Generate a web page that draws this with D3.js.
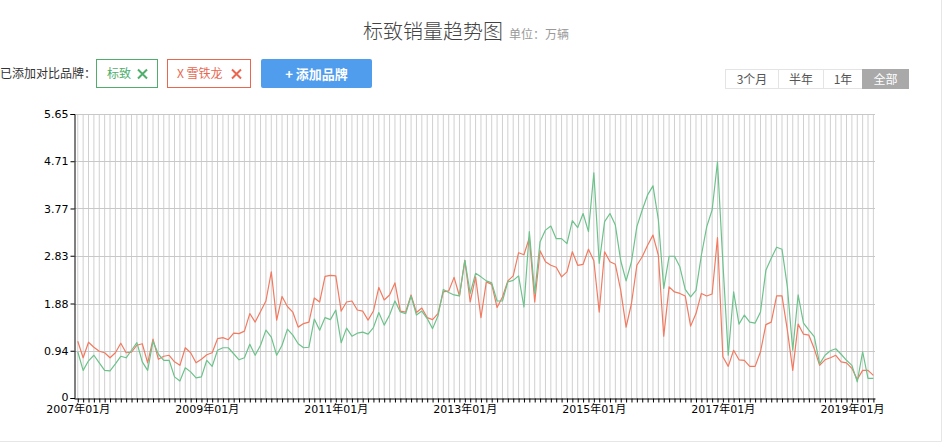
<!DOCTYPE html>
<html>
<head>
<meta charset="utf-8">
<script src="https://cdn.jsdelivr.net/npm/d3@7/dist/d3.min.js"></script>
<style>
  html, body { margin: 0; padding: 0; background: #fff; }
  svg { display: block; }
</style>
</head>
<body>
<svg id="chart" width="946" height="447"></svg>
<script>
// ---------------- DATA ----------------
const startYear = 2007;
const monthCount = 149; // 2007-01 .. 2019-05
const seriesNames = ["标致", "雪铁龙"];
const yTicks = [0, 0.94, 1.88, 2.83, 3.77, 4.71, 5.65];
const xTickLabels = ["2007年01月", "2009年01月", "2011年01月", "2013年01月", "2015年01月", "2017年01月", "2019年01月"];
const rangeButtons = ["3个月", "半年", "1年", "全部"];

// 标致 (green)
const peugeot = [
  0.92, 0.55, 0.74, 0.85, 0.70, 0.55, 0.54, 0.68, 0.83, 0.80, 0.95, 1.10,
  0.72, 0.55, 1.13, 0.87, 0.75, 0.75, 0.42, 0.34, 0.60, 0.52, 0.40, 0.42,
  0.75, 0.63, 0.95, 1.00, 1.00, 0.88, 0.76, 0.80, 1.07, 0.85, 1.05, 1.35,
  1.21, 0.85, 1.05, 1.37, 1.25, 1.08, 1.00, 1.01, 1.57, 1.35, 1.60, 1.56,
  1.75, 1.10, 1.39, 1.23, 1.29, 1.31, 1.27, 1.40, 1.70, 1.45, 1.65, 1.93,
  1.71, 1.68, 2.03, 1.65, 1.73, 1.58, 1.38, 1.63, 2.16, 2.10, 2.05, 2.03,
  2.74, 2.08, 2.48, 2.41, 2.33, 2.29, 1.93, 1.93, 2.31, 2.34, 2.43, 1.81,
  3.31, 2.08, 3.11, 3.34, 3.42, 3.17, 3.17, 3.07, 3.53, 3.39, 3.67, 3.31,
  4.48, 2.68, 3.51, 3.67, 3.44, 2.73, 2.33, 2.71, 3.41, 3.74, 4.04, 4.22,
  3.55, 2.18, 2.82, 2.82, 2.61, 2.16, 2.01, 2.14, 2.84, 3.41, 3.74, 4.70,
  2.70, 0.85, 2.11, 1.47, 1.65, 1.51, 1.49, 1.71, 2.54, 2.78, 3.00, 2.96,
  2.21, 0.95, 2.05, 1.49, 1.35, 1.22, 0.68, 0.85, 0.94, 0.98, 0.87, 0.75,
  0.65, 0.32, 0.92, 0.39, 0.39
];

// 雪铁龙 (red)
const citroen = [
  1.13, 0.80, 1.11, 1.01, 0.93, 0.90, 0.80, 0.90, 1.09, 0.90, 0.91, 1.05,
  1.08, 0.70, 1.17, 0.77, 0.83, 0.85, 0.72, 0.65, 1.00, 0.90, 0.70, 0.77,
  0.86, 0.90, 1.18, 1.20, 1.16, 1.29, 1.28, 1.33, 1.68, 1.51, 1.72, 1.93,
  2.51, 1.55, 2.02, 1.82, 1.71, 1.41, 1.48, 1.51, 1.99, 1.91, 2.42, 2.44,
  2.43, 1.73, 1.91, 1.93, 1.75, 1.73, 1.55, 1.73, 2.20, 1.95, 2.05, 2.29,
  1.73, 1.71, 2.05, 1.70, 1.79, 1.60, 1.56, 1.68, 2.11, 2.13, 2.40, 2.03,
  2.74, 1.91, 2.41, 1.60, 2.31, 2.26, 1.80, 2.01, 2.33, 2.43, 2.89, 2.85,
  3.19, 1.91, 2.93, 2.71, 2.64, 2.60, 2.41, 2.51, 2.91, 2.64, 2.66, 2.96,
  2.73, 1.71, 2.91, 2.71, 2.66, 2.14, 1.41, 1.88, 2.64, 2.81, 3.04, 3.24,
  2.84, 1.23, 2.21, 2.11, 2.08, 2.03, 1.43, 1.68, 2.08, 2.03, 2.07, 3.19,
  0.82, 0.63, 0.95, 0.76, 0.75, 0.63, 0.63, 0.92, 1.46, 1.51, 2.03, 2.03,
  1.35, 0.55, 1.47, 1.27, 1.25, 0.98, 0.65, 0.76, 0.80, 0.85, 0.72, 0.70,
  0.59, 0.37, 0.55, 0.55, 0.45
];

// month categories
const months = d3.range(monthCount).map(i => {
  const yr = startYear + Math.floor(i / 12);
  const m = (i % 12) + 1;
  return `${yr}年${String(m).padStart(2, "0")}月`;
});

// ---------------- STYLE ----------------
const GREEN = "#6dc28c";
const RED = "#f27a60";
const GREEN_TXT = "#4fae6c";
const RED_TXT = "#e9664f";
const cjk = "'Noto Sans CJK SC', 'Noto Sans', sans-serif";
const axisFont = "'DejaVu Sans', 'Noto Sans CJK SC', sans-serif";

const svg = d3.select("#chart");

// container border
svg.append("line").attr("x1", 941.5).attr("x2", 941.5).attr("y1", 0).attr("y2", 441.5)
  .attr("stroke", "#e6e6e6");
svg.append("line").attr("x1", 0).attr("x2", 941.5).attr("y1", 441.5).attr("y2", 441.5)
  .attr("stroke", "#e6e6e6");

// title
const title = svg.append("text").attr("x", 363).attr("y", 39)
  .attr("font-family", cjk).attr("font-size", 20).attr("font-weight", 300).attr("fill", "#444");
title.append("tspan").text("标致销量趋势图");
title.append("tspan").attr("dx", 6).attr("font-size", 12).attr("font-weight", 400).attr("fill", "#999").text("单位：万辆");

// legend / controls
svg.append("text").attr("x", 0).attr("y", 78).attr("font-family", cjk).attr("font-size", 12)
  .attr("fill", "#333").text("已添加对比品牌：");

function crossIcon(g, cx, cy, color) {
  const s = 4.5;
  g.append("path").attr("d", `M${cx - s},${cy - s}L${cx + s},${cy + s}M${cx + s},${cy - s}L${cx - s},${cy + s}`)
    .attr("stroke", color).attr("stroke-width", 2).attr("fill", "none");
}
// 标致 box
const b1 = svg.append("g");
b1.append("rect").attr("x", 96.5).attr("y", 59.5).attr("width", 61).attr("height", 28)
  .attr("fill", "#fff").attr("stroke", GREEN_TXT);
b1.append("text").attr("x", 107).attr("y", 78).attr("font-family", cjk).attr("font-size", 12)
  .attr("fill", GREEN_TXT).text(seriesNames[0]);
crossIcon(b1, 142.5, 74, GREEN_TXT);
// 雪铁龙 box
const b2 = svg.append("g");
b2.append("rect").attr("x", 167.5).attr("y", 59.5).attr("width", 83).attr("height", 28)
  .attr("fill", "#fff").attr("stroke", RED_TXT);
b2.append("text").attr("x", 177).attr("y", 78).attr("font-family", cjk).attr("font-size", 12)
  .attr("fill", RED_TXT).text("X " + seriesNames[1]);
crossIcon(b2, 236.5, 74, RED_TXT);
// add button
const b3 = svg.append("g");
b3.append("rect").attr("x", 261).attr("y", 59).attr("width", 111).attr("height", 29)
  .attr("rx", 2).attr("fill", "#519ded");
b3.append("text").attr("x", 316.5).attr("y", 79).attr("text-anchor", "middle")
  .attr("font-family", cjk).attr("font-size", 13).attr("font-weight", "bold")
  .attr("fill", "#fff").text("+ 添加品牌");

// range buttons
const btnX = [725, 778, 823, 862, 908];
rangeButtons.forEach((t, i) => {
  const active = i === rangeButtons.length - 1;
  svg.append("rect").attr("x", btnX[i] + 0.5).attr("y", 69.5)
    .attr("width", btnX[i + 1] - btnX[i]).attr("height", 19)
    .attr("fill", active ? "#a9a9a9" : "#fff").attr("stroke", active ? "#a9a9a9" : "#e4e4e4");
  svg.append("text").attr("x", (btnX[i] + btnX[i + 1]) / 2 + 0.5).attr("y", 83.5)
    .attr("text-anchor", "middle").attr("font-family", cjk).attr("font-size", 12)
    .attr("fill", active ? "#fff" : "#555").text(t);
});

// ---------------- CHART ----------------
const plotLeft = 74, plotRight = 875, plotTop = 114, plotBottom = 398;
const x = d3.scaleLinear().domain([-0.7, monthCount - 0.7]).range([plotLeft, plotRight]);
const y = d3.scaleLinear().domain([0, yTicks[yTicks.length - 1]]).range([plotBottom, plotTop]);

const grid = svg.append("g");
// vertical gridlines for every month
grid.selectAll("line.v").data(months).join("line").attr("class", "v")
  .attr("x1", (d, i) => x(i)).attr("x2", (d, i) => x(i))
  .attr("y1", plotTop).attr("y2", plotBottom)
  .attr("stroke", "#d0d0d0").attr("stroke-width", 1);
// horizontal gridlines
grid.selectAll("line.h").data(yTicks.slice(1)).join("line").attr("class", "h")
  .attr("x1", plotLeft).attr("x2", plotRight)
  .attr("y1", d => Math.round(y(d)) + 0.5).attr("y2", d => Math.round(y(d)) + 0.5)
  .attr("stroke", "#c8c8c8").attr("stroke-width", 1);

// y axis
const yAxis = d3.axisLeft(y).tickValues(yTicks).tickSize(4).tickFormat(d => d === 0 ? "0" : d3.format(".2f")(d));
const gy = svg.append("g").attr("transform", `translate(${plotLeft + 0.5},0)`).call(yAxis);
gy.select(".domain").attr("stroke", "#000");
gy.selectAll(".tick line").attr("stroke", "#000");
gy.selectAll(".tick text").attr("font-family", axisFont).attr("font-size", 11).attr("fill", "#000").attr("x", -6)
  .attr("dy", d => d === 0 ? "0.2em" : "0.32em");

// x axis
const xAxis = d3.axisBottom(x).tickValues(d3.range(monthCount)).tickSize(4).tickSizeOuter(0)
  .tickFormat(i => (i % 24 === 0) ? xTickLabels[i / 24] : "");
const gx = svg.append("g").attr("transform", `translate(0,${plotBottom + 0.5})`).call(xAxis);
gx.select(".domain").attr("stroke", "#000");
gx.selectAll(".tick line").attr("stroke", "#000");
gx.selectAll(".tick text").attr("font-family", axisFont).attr("font-size", 11).attr("fill", "#000").attr("y", 7);

// lines
const line = d3.line().x((d, i) => x(i)).y(d => y(d));
svg.append("path").datum(citroen).attr("d", line).attr("fill", "none")
  .attr("stroke", RED).attr("stroke-width", 1.2).attr("stroke-linejoin", "round");
svg.append("path").datum(peugeot).attr("d", line).attr("fill", "none")
  .attr("stroke", GREEN).attr("stroke-width", 1.2).attr("stroke-linejoin", "round");
</script>
</body>
</html>
